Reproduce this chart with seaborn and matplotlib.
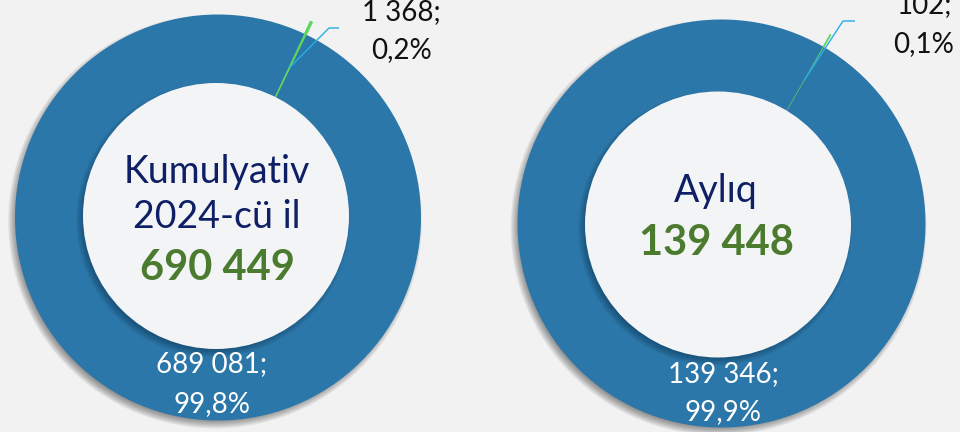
import math
import matplotlib
matplotlib.use("Agg")
import matplotlib.pyplot as plt
from matplotlib.patches import Circle
import seaborn as sns

# Values shown on the two donuts
titles = ["Kumulyativ\n2024-cü il", "Aylıq"]
totals = [690449, 139448]
main_counts = [689081, 139346]
small_counts = [1368, 102]


def fmt_int(v):
    return f"{v:,}".replace(",", " ")


def fmt_pct(v, tot):
    return f"{100 * v / tot:.1f}%".replace(".", ",")


sns.set_theme(style="white")
plt.rcParams["font.family"] = ["Lato", "DejaVu Sans"]

BG = "#f2f2f2"
RING = "#2b77a9"
SLIVER = "#5cd65c"
LEADER = "#29ade6"
HOLE = "#f3f4f6"
NAVY = "#0f1f66"
GREEN = "#4b7b2e"

W, H = 960, 432
fig = plt.figure(figsize=(W / 100, H / 100), dpi=100, facecolor=BG)
ax = fig.add_axes([0, 0, 1, 1])
ax.set_facecolor(BG)


def soft_disc(center, r, color, alpha, blur, z, n=10):
    for i in range(n):
        rr = r + blur * (1 - 2 * i / (n - 1))
        ax.add_patch(Circle(center, rr, facecolor=color, edgecolor="none",
                            alpha=alpha / n * 1.6, zorder=z))


# geometry of each donut in pixel units (y up)
layout = [
    dict(c=(218, 214.5), hole=(216, 216), r=203, rh=133, ang=25.5,
         elbow=(329, 404), end=339, top_x=401, top_y=(412, 374),
         bot_x=212, bot_y=(60, 20), mid_x=217,
         title_y=(249, 204), num_y=152),
    dict(c=(721.5, 208.5), hole=(718, 207.5), r=204, rh=133, ang=30.0,
         elbow=(843, 411), end=855, top_x=924, top_y=(419, 380),
         bot_x=723, bot_y=(50, 12), mid_x=716,
         title_y=(230,), num_y=177),
]

for i, L in enumerate(layout):
    cx, cy = L["c"]
    R = L["r"]
    tot = main_counts[i] + small_counts[i]
    frac_small = small_counts[i] / tot
    # the small slice is centred ang degrees clockwise from the top
    start = 90 - L["ang"] + frac_small * 180

    # drop shadow of the ring
    soft_disc((cx - 3, cy - 4), R, "#000000", 0.30, 4, z=0.5)

    wedges, _ = ax.pie([small_counts[i], main_counts[i]],
                       colors=[SLIVER, RING], center=(cx, cy), radius=R,
                       startangle=start, counterclock=False,
                       explode=[14, 0],
                       wedgeprops=dict(width=R - 118, linewidth=0))
    wedges[0].set_edgecolor(SLIVER)
    wedges[0].set_linewidth(0.6)

    # inner disc with its own shadow
    hx, hy = L["hole"]
    soft_disc((hx - 3, hy - 4), L["rh"], "#0a2a45", 0.35, 4, z=2)
    ax.add_patch(Circle((hx, hy), L["rh"], facecolor=HOLE,
                        edgecolor="none", zorder=3))

    # leader line to the small-slice label
    a = math.radians(90 - L["ang"])
    sx, sy = cx + 166 * math.cos(a), cy + 166 * math.sin(a)
    ex, ey = L["elbow"]
    ax.plot([sx, ex, L["end"]], [sy, ey, ey], color=LEADER, lw=1.0,
            zorder=4, solid_capstyle="butt")

    # small-slice label
    ax.text(L["top_x"], L["top_y"][0], fmt_int(small_counts[i]) + ";",
            ha="center", va="baseline", fontsize=20, color="#111111", zorder=5)
    ax.text(L["top_x"], L["top_y"][1], fmt_pct(small_counts[i], tot),
            ha="center", va="baseline", fontsize=20, color="#111111", zorder=5)

    # main-slice label
    ax.text(L["bot_x"], L["bot_y"][0], fmt_int(main_counts[i]) + ";",
            ha="center", va="baseline", fontsize=20, color="white", zorder=5)
    ax.text(L["bot_x"], L["bot_y"][1], fmt_pct(main_counts[i], tot),
            ha="center", va="baseline", fontsize=20, color="white", zorder=5)

    # centre title and total
    for line, ty in zip(titles[i].split("\n"), L["title_y"]):
        ax.text(L["mid_x"], ty, line, ha="center", va="baseline",
                fontsize=27, color=NAVY, zorder=5)
    ax.text(L["mid_x"], L["num_y"], fmt_int(totals[i]), ha="center",
            va="baseline", fontsize=30, fontweight="bold", color=GREEN,
            zorder=5)

ax.set_xlim(0, W)
ax.set_ylim(0, H)
ax.set_aspect("equal")
ax.axis("off")
fig.savefig("out.png", dpi=100, facecolor=BG)
